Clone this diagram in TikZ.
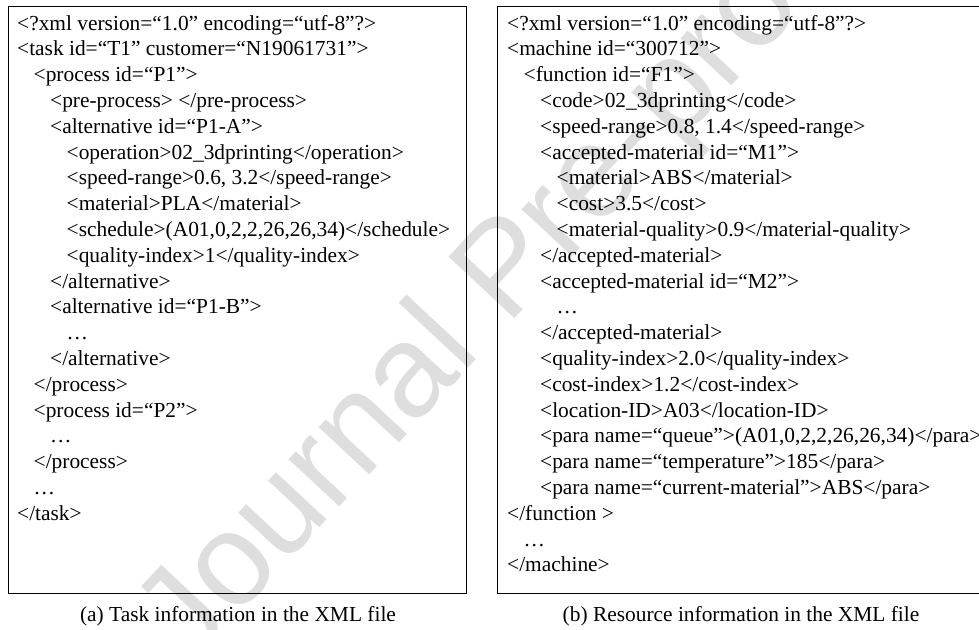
\documentclass[tikz,border=0pt]{standalone}
\usepackage{fontspec}
\setmainfont{Liberation Serif}
\newfontfamily\wmfont{Liberation Sans}
\definecolor{wmgray}{RGB}{222,222,222}
\begin{document}
\begin{tikzpicture}[x=1pt,y=-1pt,
  ln/.style={anchor=base west,inner sep=0pt,font=\fontsize{21.4}{25.8}\selectfont},
  captext/.style={anchor=base,inner sep=0pt,font=\fontsize{21.4}{25.8}\selectfont},
  frame/.style={draw=black,line width=1pt},
  wm/.style={anchor=mid,inner sep=0pt,text=wmgray,font=\wmfont\fontsize{131}{131}\selectfont,rotate=47}]
\useasboundingbox (0,0) rectangle (979,629);
\clip (0,0) rectangle (979,629);
\fill[white] (0,0) rectangle (979,629);
\node[wm] (wm) at (533,296) {Journal Pre-proof};
% frames
\draw[frame] (8,6) rectangle (466,593);
\draw[frame] (497,6) rectangle (990,593);
% left box: task
\def\la{17}\def\lb{33.5}\def\lc{50}\def\ld{66.5}
\node[ln] (a1)  at (\la,30.0)  {<?xml version=“1.0” encoding=“utf-8”?>};
\node[ln] (a2)  at (\la,55.8)  {<task id=“T1” customer=“N19061731”>};
\node[ln] (a3)  at (\lb,81.6)  {<process id=“P1”>};
\node[ln] (a4)  at (\lc,107.4) {<pre-process> </pre-process>};
\node[ln] (a5)  at (\lc,133.2) {<alternative id=“P1-A”>};
\node[ln] (a6)  at (\ld,159.0) {<operation>02\_3dprinting</operation>};
\node[ln] (a7)  at (\ld,184.8) {<speed-range>0.6, 3.2</speed-range>};
\node[ln] (a8)  at (\ld,210.6) {<material>PLA</material>};
\node[ln] (a9)  at (\ld,236.4) {<schedule>(A01,0,2,2,26,26,34)</schedule>};
\node[ln] (a10) at (\ld,262.2) {<quality-index>1</quality-index>};
\node[ln] (a11) at (\lc,288.0) {</alternative>};
\node[ln] (a12) at (\lc,313.8) {<alternative id=“P1-B”>};
\node[ln] (a13) at (\ld,339.6) {…};
\node[ln] (a14) at (\lc,365.4) {</alternative>};
\node[ln] (a15) at (\lb,391.2) {</process>};
\node[ln] (a16) at (\lb,417.0) {<process id=“P2”>};
\node[ln] (a17) at (\lc,442.8) {…};
\node[ln] (a18) at (\lb,468.6) {</process>};
\node[ln] (a19) at (\lb,494.4) {…};
\node[ln] (a20) at (\la,520.2) {</task>};
% right box: machine
\def\ra{507}\def\rb{523.5}\def\rc{540}\def\rd{556.5}
\node[ln] (b1)  at (\ra,30.0)  {<?xml version=“1.0” encoding=“utf-8”?>};
\node[ln] (b2)  at (\ra,55.8)  {<machine id=“300712”>};
\node[ln] (b3)  at (\rb,81.6)  {<function id=“F1”>};
\node[ln] (b4)  at (\rc,107.4) {<code>02\_3dprinting</code>};
\node[ln] (b5)  at (\rc,133.2) {<speed-range>0.8, 1.4</speed-range>};
\node[ln] (b6)  at (\rc,159.0) {<accepted-material id=“M1”>};
\node[ln] (b7)  at (\rd,184.8) {<material>ABS</material>};
\node[ln] (b8)  at (\rd,210.6) {<cost>3.5</cost>};
\node[ln] (b9)  at (\rd,236.4) {<material-quality>0.9</material-quality>};
\node[ln] (b10) at (\rc,262.2) {</accepted-material>};
\node[ln] (b11) at (\rc,288.0) {<accepted-material id=“M2”>};
\node[ln] (b12) at (\rd,313.8) {…};
\node[ln] (b13) at (\rc,339.6) {</accepted-material>};
\node[ln] (b14) at (\rc,365.4) {<quality-index>2.0</quality-index>};
\node[ln] (b15) at (\rc,391.2) {<cost-index>1.2</cost-index>};
\node[ln] (b16) at (\rc,417.0) {<location-ID>A03</location-ID>};
\node[ln] (b17) at (\rc,442.8) {<para name=“queue”>(A01,0,2,2,26,26,34)</para>};
\node[ln] (b18) at (\rc,468.6) {<para name=“temperature”>185</para>};
\node[ln] (b19) at (\rc,494.4) {<para name=“current-material”>ABS</para>};
\node[ln] (b20) at (\ra,520.2) {</function >};
\node[ln] (b21) at (\rb,546.0) {…};
\node[ln] (b22) at (\ra,571.8) {</machine>};
% captions
\node[captext] (capa) at (238,621) {(a) Task information in the XML file};
\node[captext] (capb) at (741,621) {(b) Resource information in the XML file};
\end{tikzpicture}
\end{document}
